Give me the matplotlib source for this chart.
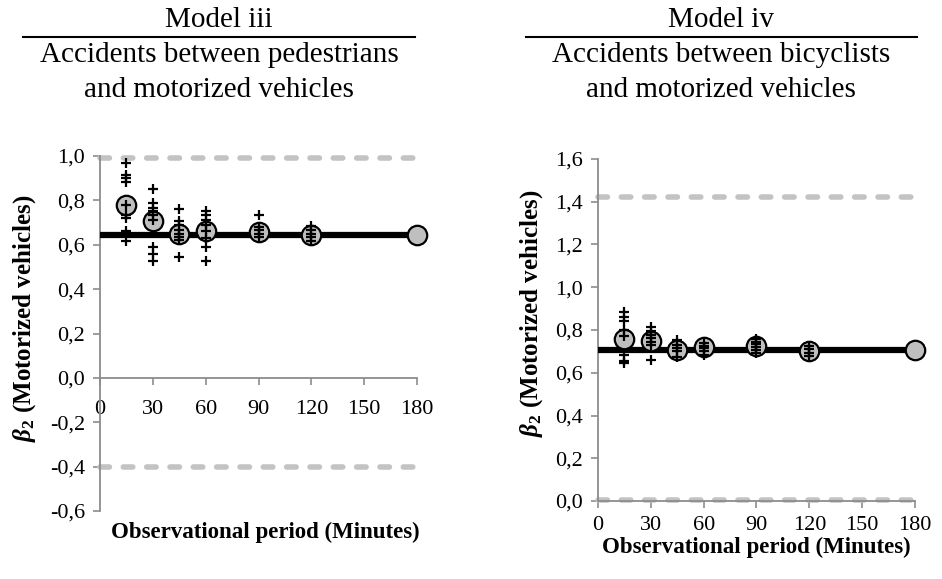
import matplotlib
matplotlib.use('Agg')
import matplotlib.pyplot as plt
from matplotlib.lines import Line2D
from matplotlib.ticker import FuncFormatter

plt.rcParams['font.family'] = ['Liberation Serif', 'DejaVu Serif']
plt.rcParams['mathtext.fontset'] = 'custom'
plt.rcParams['mathtext.it'] = 'Liberation Serif:italic:bold'
plt.rcParams['mathtext.rm'] = 'Liberation Serif:bold'
plt.rcParams['mathtext.bf'] = 'Liberation Serif:bold'

# ---------------- data ----------------
periods = [15, 30, 45, 60, 90, 120]
full_period = 180

# Model iii: pedestrians vs motorized vehicles
iii_full_estimate = 0.645
iii_ci_upper = 0.99
iii_ci_lower = -0.40
iii_means = [0.779, 0.707, 0.649, 0.662, 0.659, 0.644]
iii_full_mean = 0.644
iii_samples = [
    [0.97, 0.915, 0.90, 0.885, 0.78, 0.735, 0.72, 0.66, 0.615],
    [0.85, 0.79, 0.765, 0.75, 0.735, 0.71, 0.59, 0.56, 0.525],
    [0.76, 0.705, 0.69, 0.665, 0.65, 0.635, 0.62, 0.545],
    [0.75, 0.735, 0.71, 0.69, 0.66, 0.63, 0.59, 0.525],
    [0.735, 0.68, 0.665, 0.65, 0.635],
    [0.685, 0.665, 0.65, 0.635, 0.615],
]

# Model iv: bicyclists vs motorized vehicles
iv_full_estimate = 0.707
iv_ci_upper = 1.42
iv_ci_lower = 0.005
iv_means = [0.757, 0.749, 0.707, 0.72, 0.726, 0.702]
iv_full_mean = 0.707
iv_samples = [
    [0.882, 0.86, 0.84, 0.80, 0.77, 0.684, 0.657, 0.645],
    [0.813, 0.793, 0.777, 0.762, 0.746, 0.73, 0.66],
    [0.754, 0.73, 0.715, 0.70, 0.676],
    [0.738, 0.726, 0.715, 0.70, 0.684],
    [0.757, 0.746, 0.735, 0.722, 0.707, 0.691],
    [0.726, 0.71, 0.694, 0.679],
]

x_ticks = [0, 30, 60, 90, 120, 150, 180]
iii_yticks = [-0.6, -0.4, -0.2, 0.0, 0.2, 0.4, 0.6, 0.8, 1.0]
iv_yticks = [0.0, 0.2, 0.4, 0.6, 0.8, 1.0, 1.2, 1.4, 1.6]

# ---------------- figure ----------------
fig = plt.figure(figsize=(9.42, 5.79), dpi=100)
axL = fig.add_axes([0.1062, 0.1174, 0.3365, 0.6132])
axR = fig.add_axes([0.6348, 0.1347, 0.3365, 0.5907])

SPINE = '#8c8c8c'
DASH = '#c3c3c3'
fmt = FuncFormatter(lambda v, _: f'{v:.1f}'.replace('.', ','))


def draw(ax, full_est, up, lo, means, full_mean, samples, yticks, xpad):
    for yv in (up, lo):
        ax.plot([0, full_period], [yv, yv], color=DASH, lw=4,
                ls=(0, (1.7, 2.5)), dash_capstyle='round', zorder=2, clip_on=False)
    ax.plot([0, full_period], [full_est, full_est], color='black', lw=4.5,
            solid_capstyle='butt', zorder=3)
    ax.plot(periods + [full_period], means + [full_mean], 'o', ms=14,
            mfc='#bfbfbf', mec='black', mew=1.6, ls='none', zorder=4, clip_on=False)
    for p, s in zip(periods, samples):
        ax.plot([p] * len(s), s, '+', color='black', ms=7, mew=1.6,
                ls='none', zorder=5, clip_on=False)
    ax.set_xlim(0, full_period)
    ax.set_ylim(yticks[0], yticks[-1])
    ax.set_xticks(x_ticks)
    ax.set_yticks(yticks)
    ax.yaxis.set_major_formatter(fmt)
    for sp in ('top', 'right'):
        ax.spines[sp].set_visible(False)
    for sp in ('left', 'bottom'):
        ax.spines[sp].set_color(SPINE)
        ax.spines[sp].set_linewidth(1.3)
    ax.spines['bottom'].set_position(('data', 0))
    ax.tick_params(axis='both', direction='out', length=5, width=1.2,
                   color=SPINE, labelsize=16, labelcolor='black')
    ax.tick_params(axis='y', pad=6)
    ax.tick_params(axis='x', pad=xpad)
    ax.set_ylabel(r'$\beta_{\mathit{2}}$ (Motorized vehicles)', fontsize=18,
                  fontweight='bold')


draw(axL, iii_full_estimate, iii_ci_upper, iii_ci_lower, iii_means, iii_full_mean,
     iii_samples, iii_yticks, 11)
draw(axR, iv_full_estimate, iv_ci_upper, iv_ci_lower, iv_means, iv_full_mean,
     iv_samples, iv_yticks, 6)

axL.yaxis.set_label_coords(-0.196, 0.544)
axR.yaxis.set_label_coords(-0.167, 0.55)

axL.text(0.52, -0.06, 'Observational period (Minutes)', transform=axL.transAxes,
         ha='center', va='center', fontsize=16.5, fontweight='bold')
axR.text(0.5, -0.135, 'Observational period (Minutes)', transform=axR.transAxes,
         ha='center', va='center', fontsize=16.5, fontweight='bold')

# titles
for xc, x0, x1, model, l1 in [
        (0.2325, 0.024, 0.4406, 'Model iii', 'Accidents between pedestrians'),
        (0.7655, 0.5584, 0.9735, 'Model iv', 'Accidents between bicyclists')]:
    fig.text(xc, 0.9534, model, ha='center', va='baseline', fontsize=21)
    fig.add_artist(Line2D([x0, x1], [0.9366, 0.9366], transform=fig.transFigure,
                          color='black', lw=1.5))
    fig.text(xc, 0.8929, l1, ha='center', va='baseline', fontsize=21)
    fig.text(xc, 0.8325, 'and motorized vehicles', ha='center', va='baseline',
             fontsize=21)

fig.savefig('out.png', dpi=100)
